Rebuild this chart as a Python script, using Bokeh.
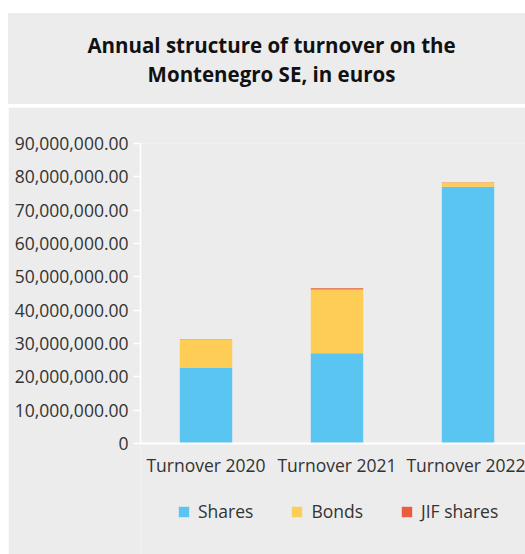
from bokeh.plotting import figure
from bokeh.models import (ColumnDataSource, Range1d, FixedTicker, Legend, LegendItem, Div)
from bokeh.layouts import column
from bokeh.embed import file_html
from bokeh.resources import INLINE

# ---- data ----
categories = ["Turnover 2020", "Turnover 2021", "Turnover 2022"]
shares = [22.8e6, 27.1e6, 77.0e6]
bonds = [8.5e6, 19.1e6, 1.3e6]
jif_shares = [0.08e6, 0.4e6, 0.1e6]
series_names = ["Shares", "Bonds", "JIF shares"]
series_colors = ["#5BC5F2", "#FECD55", "#E95C3F"]
y_ticks = [0, 10e6, 20e6, 30e6, 40e6, 50e6, 60e6, 70e6, 80e6, 90e6]
y_tick_labels = ["0", "10,000,000.00", "20,000,000.00", "30,000,000.00", "40,000,000.00",
                 "50,000,000.00", "60,000,000.00", "70,000,000.00", "80,000,000.00", "90,000,000.00"]
title_lines = ["Annual structure of turnover on the", "Montenegro SE, in euros"]

BG = "#ECECEC"
FONT = "Open Sans"
TXT = "#333333"

# ---- title box ----
title = Div(text="<br>".join(title_lines), width=517, height=91,
            styles={"background-color": BG, "font-family": FONT, "font-weight": "bold",
                    "font-size": "20.5px", "line-height": "29px", "color": "#111111",
                    "text-align": "center", "padding-top": "18px", "padding-left": "10px",
                    "box-sizing": "border-box"})
title.margin = (13, 0, 0, 8)

# ---- chart ----
x_pos = [i + 0.5 for i in range(len(categories))]
src = ColumnDataSource(dict(x=x_pos, shares=shares, bonds=bonds, jif=jif_shares))

y_max = y_ticks[-1]
# frame runs down to the bottom of the panel so that the legend can sit under the axis
y_min = -y_max * (411 - 300) / 300

p = figure(width=517, height=447, output_backend="svg", toolbar_location=None,
           x_range=Range1d(0, 385 / 131), y_range=Range1d(y_min, y_max),
           background_fill_color=BG, border_fill_color=BG,
           min_border_left=132, min_border_right=0, min_border_top=36, min_border_bottom=0)
p.margin = (3, 0, 0, 8)
p.outline_line_color = None
p.grid.visible = False

rs = p.vbar_stack(["shares", "bonds", "jif"], x="x", width=0.4, source=src,
                  color=series_colors, line_color=None)

p.yaxis.bounds = (0, y_max)
p.yaxis.ticker = FixedTicker(ticks=y_ticks)
p.yaxis.major_label_overrides = {t: l for t, l in zip(y_ticks, y_tick_labels)}
p.yaxis.axis_line_color = "white"
p.yaxis.axis_line_width = 1.5
p.yaxis.major_tick_line_color = "white"
p.yaxis.major_tick_line_width = 1.5
p.yaxis.major_tick_out = 7
p.yaxis.major_tick_in = 0
p.yaxis.minor_tick_line_color = None
p.yaxis.major_label_standoff = 5
p.yaxis.major_label_text_font = FONT
p.yaxis.major_label_text_font_size = "17.5px"
p.yaxis.major_label_text_color = TXT

p.xaxis.fixed_location = 0
p.xaxis.ticker = FixedTicker(ticks=x_pos)
p.xaxis.major_label_overrides = {x: c for x, c in zip(x_pos, categories)}
p.xaxis.axis_line_color = "white"
p.xaxis.axis_line_width = 2
p.xaxis.major_tick_line_color = None
p.xaxis.minor_tick_line_color = None
p.xaxis.major_label_standoff = 3
p.xaxis.major_label_text_font = FONT
p.xaxis.major_label_text_font_size = "17.5px"
p.xaxis.major_label_text_color = TXT

legend = Legend(items=[LegendItem(label=n, renderers=[r]) for n, r in zip(series_names, rs)],
                orientation="horizontal", location=(27, 21),
                glyph_width=13, glyph_height=13, label_standoff=8, spacing=37,
                label_text_font=FONT, label_text_font_size="17.5px", label_text_color=TXT,
                background_fill_alpha=0, border_line_alpha=0, margin=0, padding=10)
p.add_layout(legend, "center")

layout = column(title, p)
open("out.html", "w").write(file_html(layout, INLINE))
